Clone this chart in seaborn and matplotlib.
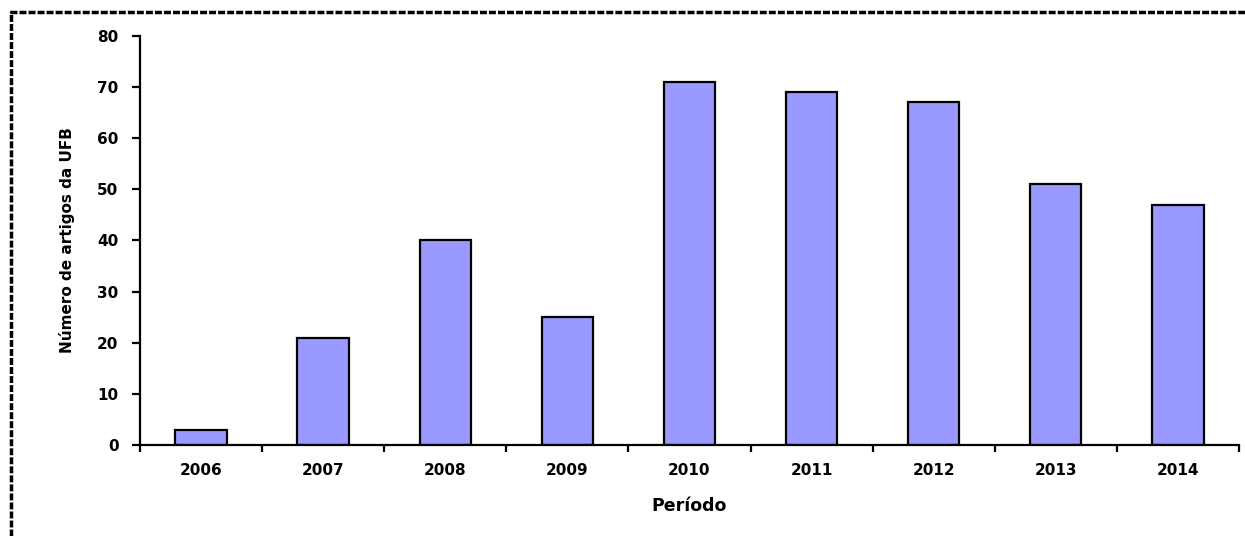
import pandas as pd
import matplotlib.pyplot as plt
import seaborn as sns
from matplotlib.lines import Line2D

# data
anos = ['2006', '2007', '2008', '2009', '2010', '2011', '2012', '2013', '2014']
artigos = [3, 21, 40, 25, 71, 69, 67, 51, 47]

df = pd.DataFrame({'ano': anos, 'artigos': artigos})

sns.set_style('white')
plt.rcParams['font.family'] = ['DejaVu Sans']
plt.rcParams['text.color'] = 'black'
plt.rcParams['axes.labelcolor'] = 'black'

fig = plt.figure(figsize=(12.45, 5.36), dpi=100)
ax = fig.add_axes([0.1124, 0.1698, 0.8828, 0.7636])

sns.barplot(x='ano', y='artigos', data=df, color='#9999FF', saturation=1,
            edgecolor='black', linewidth=1.6, width=0.42, ax=ax)

ax.set_ylim(0, 80)
ax.set_xlim(-0.5, len(anos) - 0.5)
ax.set_yticks(range(0, 81, 10))

# spines
for s in ['top', 'right']:
    ax.spines[s].set_visible(False)
for s in ['left', 'bottom']:
    ax.spines[s].set_color('black')
    ax.spines[s].set_linewidth(1.6)

# ticks: y outward, x between categories
ax.tick_params(axis='y', direction='out', length=5.5, width=1.6, pad=10,
               labelsize=11, colors='black', left=True)
ax.tick_params(axis='x', which='major', length=0, pad=13, labelsize=11,
               labelcolor='black')
ax.set_xticks([i - 0.5 for i in range(len(anos) + 1)], minor=True)
ax.tick_params(axis='x', which='minor', direction='out', length=5, width=1.6,
               bottom=True, color='black')
for lbl in ax.get_xticklabels() + ax.get_yticklabels():
    lbl.set_fontweight('bold')

ax.set_xlabel('Período', fontsize=12.5, fontweight='bold', labelpad=14)
ax.set_ylabel('Número de artigos da UFB', fontsize=11, fontweight='bold',
              labelpad=16)

# dashed frame around the figure (top and left visible)
fig.add_artist(Line2D([10 / 1245, 1.0], [1 - 12 / 536, 1 - 12 / 536],
                      transform=fig.transFigure, color='black', lw=2.5,
                      linestyle=(0, (2, 0.6))))
fig.add_artist(Line2D([11 / 1245, 11 / 1245], [0.0, 1 - 11 / 536],
                      transform=fig.transFigure, color='black', lw=2.5,
                      linestyle=(0, (2, 0.6))))

fig.savefig('out.png', dpi=100)
